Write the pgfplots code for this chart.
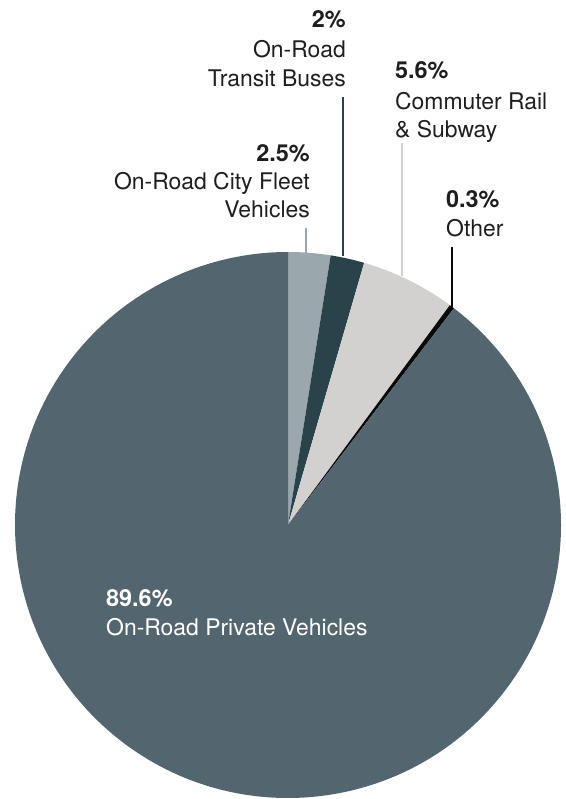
\documentclass[border=0pt]{standalone}
\usepackage{pgfplots}
\pgfplotsset{compat=1.18}
\usepackage{pgfplotstable}
\usepackage{fontspec}
\setmainfont{TeX Gyre Heros}

\definecolor{cprivate}{HTML}{53666F}
\definecolor{cfleet}{HTML}{9AA7AC}
\definecolor{cbus}{HTML}{2A434B}
\definecolor{crail}{HTML}{D2D1CF}
\definecolor{cother}{HTML}{0A0A0A}
\definecolor{ctext}{HTML}{1E1E1E}

% shares in percent, clockwise from 12 o'clock
\pgfplotstableread{
share color
2.5 cfleet
2.0 cbus
5.6 crail
0.3 cother
89.6 cprivate
}\pietable

\newcommand\pct{\fontsize{23.5}{28}\selectfont\bfseries}
\newcommand\lab{\fontsize{23}{28}\selectfont}

\begin{document}
\begin{tikzpicture}
\begin{axis}[hide axis, scale only axis,
  width=566bp, height=799bp,
  xmin=0, xmax=566, ymin=0, ymax=799,
  clip=false]
\coordinate (ll) at (axis cs:0,0);
\coordinate (ur) at (axis cs:566,799);

% wedges
\def\startangle{90}
\pgfplotsforeachungrouped \i in {0,...,4}{%
  \pgfplotstablegetelem{\i}{share}\of\pietable \let\val\pgfplotsretval
  \pgfplotstablegetelem{\i}{color}\of\pietable \let\col\pgfplotsretval
  \pgfmathsetmacro\endangle{\startangle-3.6*\val}%
  \edef\tmp{\noexpand\fill[\col] (axis cs:288,274) -- ++(\startangle:273bp)
    arc[start angle=\startangle, end angle=\endangle, radius=273bp] -- cycle;}%
  \tmp
  \global\let\startangle\endangle
}

% leader lines
\draw[cfleet, line width=2bp] (axis cs:306,571) -- (axis cs:306,546);
\draw[cbus, line width=2bp] (axis cs:343,702) -- (axis cs:343,543);
\draw[crail, line width=2bp] (axis cs:402,656) -- (axis cs:402,523);
\draw[cother, line width=2.5bp] (axis cs:452,552) -- (axis cs:452,492);

% labels
\begin{scope}[every node/.style={inner sep=0pt, text=ctext}]
\node[anchor=base east] at (axis cs:346,771) {\pct 2\%};
\node[anchor=base east] at (axis cs:346,741) {\lab On-Road};
\node[anchor=base east] at (axis cs:346,712) {\lab Transit Buses};

\node[anchor=base east] at (axis cs:310,637) {\pct 2.5\%};
\node[anchor=base east] at (axis cs:310,609) {\lab On-Road City Fleet};
\node[anchor=base east] at (axis cs:310,581) {\lab Vehicles};

\node[anchor=base west] at (axis cs:395,720) {\pct 5.6\%};
\node[anchor=base west] at (axis cs:395,689) {\lab Commuter Rail};
\node[anchor=base west] at (axis cs:395,661) {\lab \& Subway};

\node[anchor=base west] at (axis cs:446,591) {\pct 0.3\%};
\node[anchor=base west] at (axis cs:446,562) {\lab Other};

\node[anchor=base west, text=white] at (axis cs:106,192) {\pct 89.6\%};
\node[anchor=base west, text=white] at (axis cs:106,163) {\lab On-Road Private Vehicles};
\end{scope}
\end{axis}
\pgfresetboundingbox
\path[use as bounding box] (ll) rectangle (ur);
\end{tikzpicture}
\end{document}
